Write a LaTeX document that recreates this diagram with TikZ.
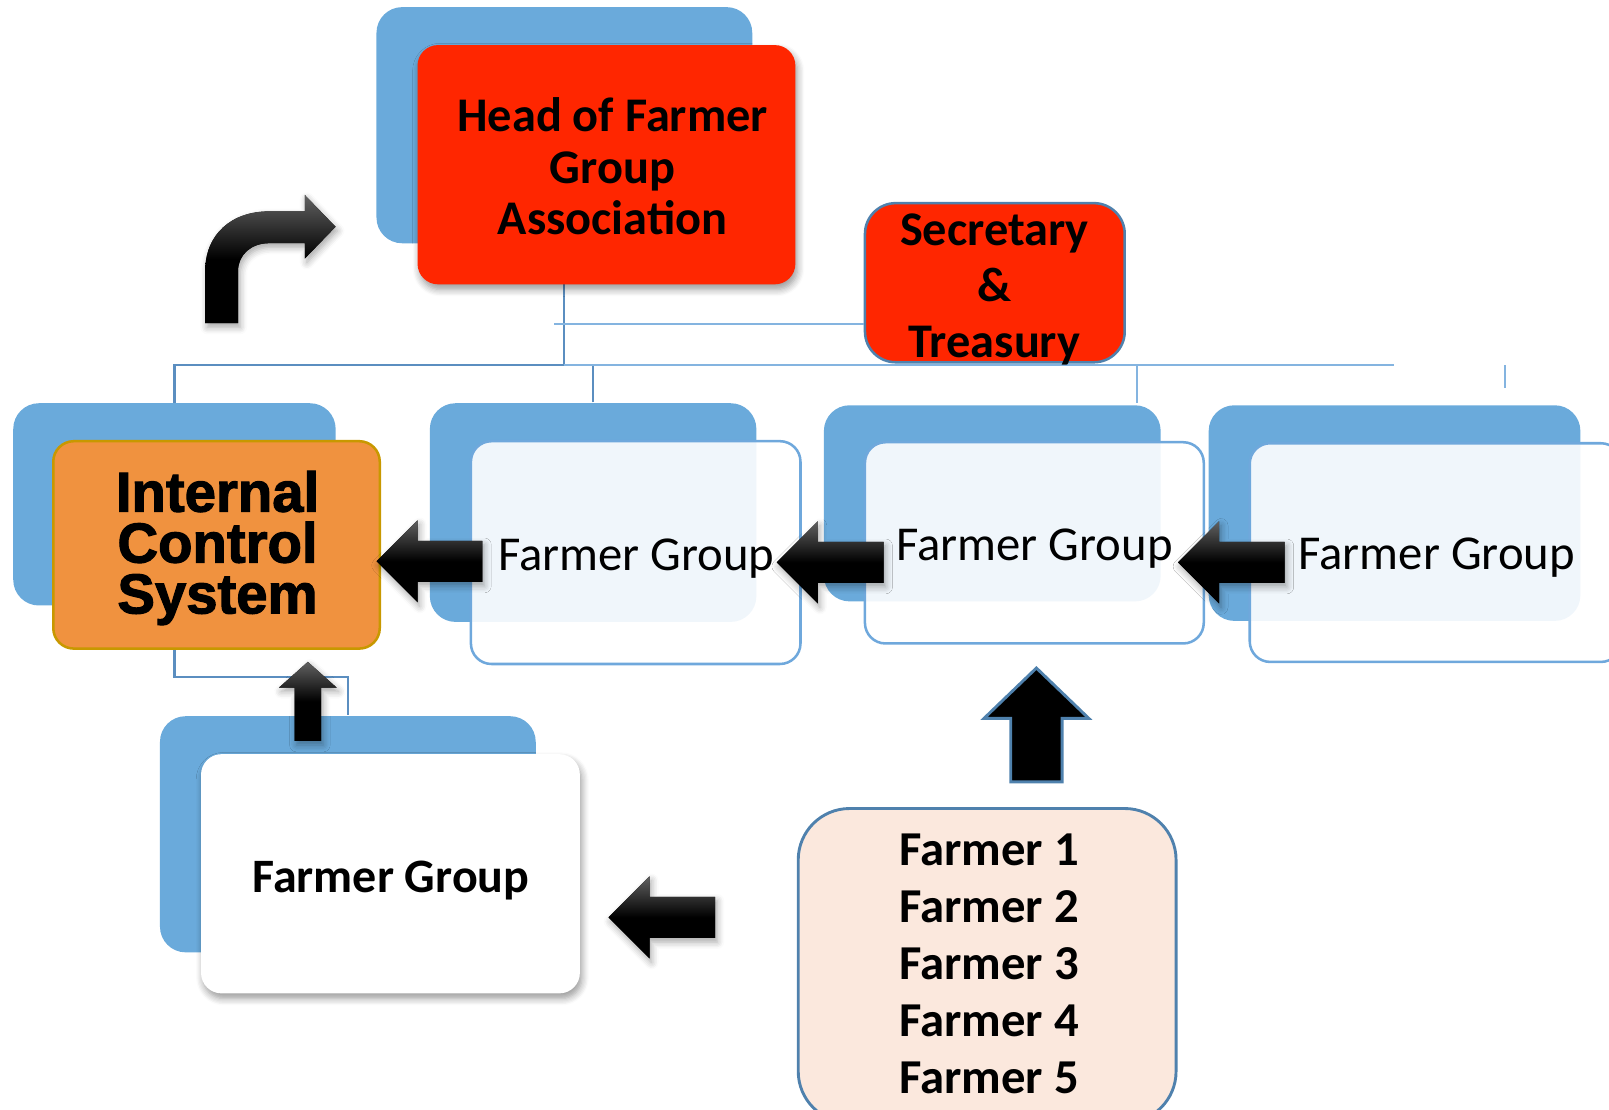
\documentclass[tikz,border=0pt]{standalone}
\usepackage{fontspec}
\setmainfont{Carlito}
\newfontfamily\icsfont[BoldFeatures={FakeBold=2}]{Liberation Sans}
\usetikzlibrary{shadows,shadows.blur}
\definecolor{bluebk}{RGB}{106,170,219}
\definecolor{redbox}{RGB}{255,38,0}
\definecolor{orangebox}{RGB}{240,146,63}
\definecolor{goldedge}{RGB}{200,152,0}
\definecolor{lightedge}{RGB}{111,168,220}
\definecolor{steeledge}{RGB}{79,129,173}
\definecolor{peach}{RGB}{251,232,221}
\definecolor{conndark}{RGB}{91,142,192}
\definecolor{connlight}{RGB}{132,180,224}
\newcommand\leftblk[3]{%
  \fill[blockarrow] (#1,#2) -- (#1+40,#2-40) -- (#1+40,#2-20) -- (#3,#2-20)
     -- (#3,#2+20) -- (#1+40,#2+20) -- (#1+40,#2+40) -- cycle;}
\begin{document}
\begin{tikzpicture}[x=0.01cm,y=-0.01cm,
  back/.style={rectangle, rounded corners=0.25cm, fill=bluebk, inner sep=0pt},
  frontbox/.style={rectangle, rounded corners=0.2cm, inner sep=0pt, align=center},
  lightbox/.style={frontbox, fill=white, fill opacity=0.9, text opacity=1, draw=lightedge, line width=0.7pt},
  fgtext/.style={font=\fontsize{13.5}{15}\selectfont},
  shadowed/.style={blur shadow={shadow xshift=0.02cm, shadow yshift=-0.05cm, shadow opacity=40, shadow blur steps=6, shadow blur extra rounding=2pt}},
  conn/.style={draw=conndark, line width=0.6pt},
  connl/.style={draw=connlight, line width=0.5pt},
  blockarrow/.style={top color=black!62, bottom color=black, middle color=black,
     blur shadow={shadow xshift=0.02cm, shadow yshift=-0.04cm, shadow opacity=35, shadow blur steps=5}},
]
\useasboundingbox (0,0) rectangle (1568,1081);

% ---------- back boxes ----------
\node[back, minimum width=3.66cm, minimum height=2.30cm] (headb) at (550,122) {};
\node[back, minimum width=3.14cm, minimum height=1.97cm] (icsb) at (170,491.5) {};
\node[back, minimum width=3.18cm, minimum height=2.13cm] (fg1b) at (578,499.5) {};
\node[back, minimum width=3.28cm, minimum height=1.91cm] (fg2b) at (967,490.5) {};
\node[back, minimum width=3.62cm, minimum height=2.10cm] (fg3b) at (1359,500) {};
\node[back, minimum width=3.66cm, minimum height=2.30cm] (bfgb) at (339,813) {};

% ---------- connectors ----------
\coordinate (hub) at (550,356);
\coordinate (hubend) at (1358,356);
\coordinate (dropA) at (1108,393);
\coordinate (stubA) at (1467,356);
\coordinate (stubB) at (1467,378);
\coordinate (secl) at (540,316);
\draw[conn] (headb.center) -- (hub);
\draw[conn] (icsb.north) |- (hub);
\draw[conn] (fg1b.north) |- (hub);
\draw[connl] (hub) -- (hubend);
\draw[connl] (dropA |- hub) -- (dropA);
\draw[connl] (stubA) -- (stubB);
\draw[conn] (icsb.south |- 0,632) -- ++(0,28) -| (bfgb.north);

% ---------- front boxes ----------
\node[frontbox, shadowed, fill=redbox, minimum width=3.68cm, minimum height=2.33cm] (headf) at (591,160.5) {};
\node[align=center, font=\bfseries\fontsize{13.4}{14.2}\selectfont] (headt) at (597,162)
  {Head of Farmer\\Group\\Association};
\node[rectangle, rounded corners=0.3cm, fill=redbox, draw=steeledge, line width=0.7pt,
  minimum width=2.53cm, minimum height=1.55cm, inner sep=0pt] (sec) at (969.5,275.5) {};
\node[align=center, font=\bfseries\fontsize{13.4}{15.6}\selectfont] (sect) at (969,282)
  {Secretary\\\&\\Treasury};
\draw[connl] (secl) -- (secl -| sec.west);

\node[frontbox, fill=orangebox, draw=goldedge, line width=0.7pt,
  minimum width=3.18cm, minimum height=2.02cm] (icsf) at (211,531) {};
\node[align=center, font=\icsfont\bfseries\fontsize{15.6}{14.1}\selectfont] (icst) at (212,534)
  {Internal\\Control\\System};
\node[lightbox, minimum width=3.21cm, minimum height=2.17cm] (fg1f) at (619.5,538.5) {};
\node[fgtext] (fg1t) at (620,544) {Farmer Group};
\node[lightbox, minimum width=3.30cm, minimum height=1.96cm] (fg2f) at (1008,529) {};
\node[fgtext] (fg2t) at (1008,535) {Farmer Group};
\node[lightbox, minimum width=3.62cm, minimum height=2.13cm] (fg3f) at (1399,538.5) {};
\node[fgtext] (fg3t) at (1400,543) {Farmer Group};

\node[frontbox, shadowed, fill=white, minimum width=3.69cm, minimum height=2.33cm] (bfgf) at (380.5,851.5) {};
\node[font=\bfseries\fontsize{13.3}{15}\selectfont] (bfgt) at (381,858) {Farmer Group};

\node[rectangle, rounded corners=0.5cm, fill=peach, draw=steeledge, line width=0.8pt,
  minimum width=3.68cm, minimum height=3.06cm, inner sep=0pt] (farmers) at (962,941) {};
\node[align=center, font=\bfseries\fontsize{13.5}{15.8}\selectfont] (farmt) at (964,939)
  {Farmer 1\\Farmer 2\\Farmer 3\\Farmer 4\\Farmer 5};

% ---------- block arrows ----------
\leftblk{367}{547}{470}
\leftblk{757}{548}{861}
\leftblk{1148}{548}{1252}
\leftblk{593}{894}{697}

% up arrow into ICS
\fill[blockarrow] (300,645) -- (328,670) -- (313,670) -- (313,722) -- (287,722)
   -- (287,670) -- (272,670) -- cycle;
% up arrow from farmers
\filldraw[fill=black, draw=steeledge, line width=0.8pt] (1010,651) -- (1061,700) -- (1035,700)
   -- (1035,762) -- (985,762) -- (985,700) -- (959,700) -- cycle;

% bent arrow
\fill[blockarrow] (200,315) -- (200,264) .. controls (200,228) and (226,206) .. (262,206)
   -- (297,206) -- (297,190) -- (327,221) -- (297,252) -- (297,237) -- (262,237)
   .. controls (245,237) and (232,248) .. (232,264) -- (232,315) -- cycle;
\end{tikzpicture}
\end{document}
